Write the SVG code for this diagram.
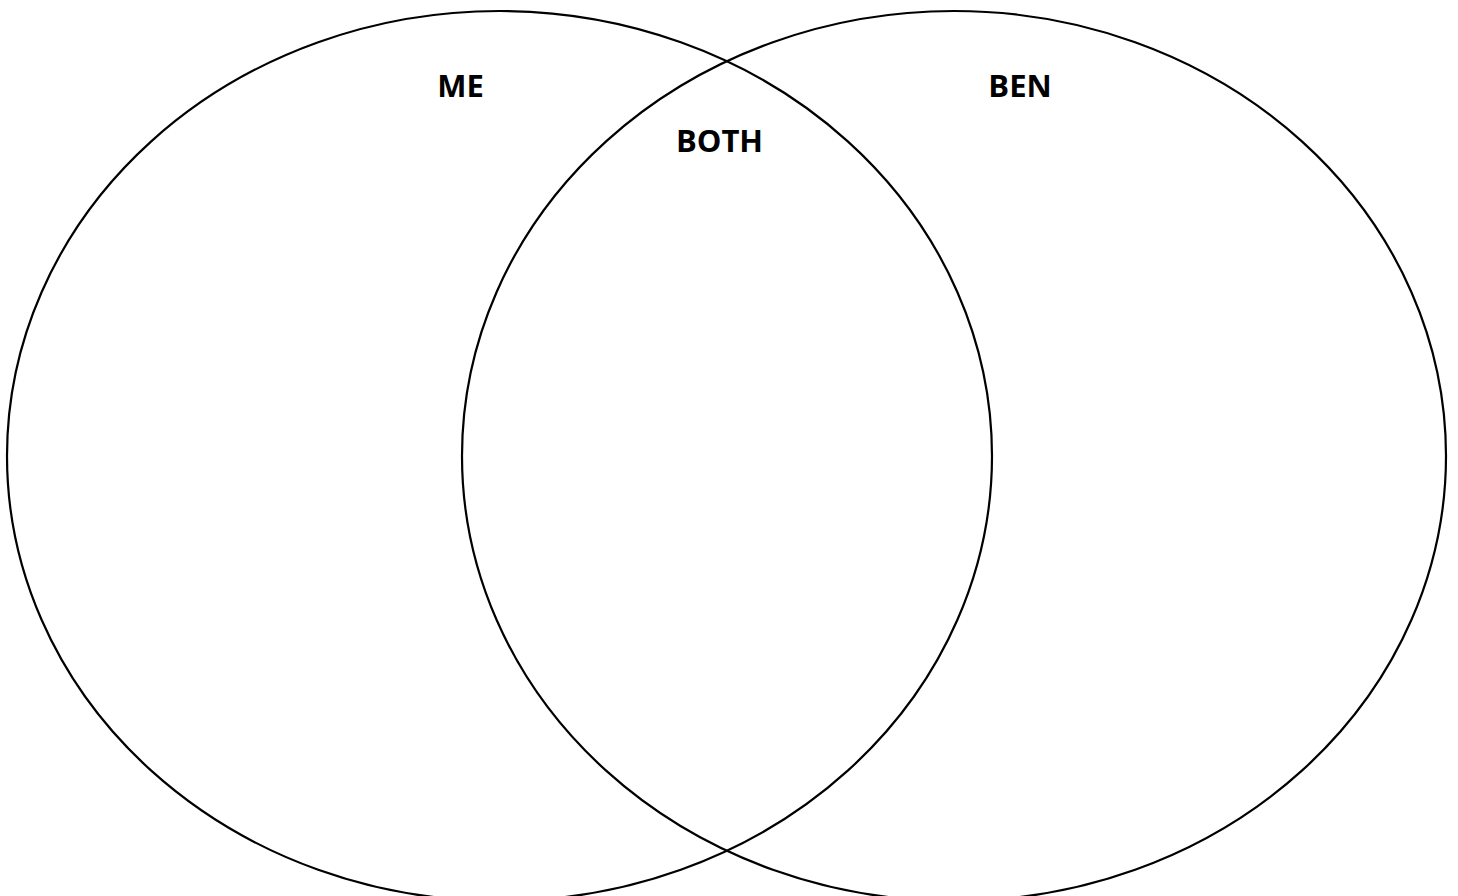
<svg xmlns="http://www.w3.org/2000/svg" width="1458" height="896" viewBox="0 0 1458 896">
<style>
.c{fill:none;stroke:#000;stroke-width:2.2}
.t{font-family:"Open Sans","Liberation Sans",sans-serif;font-weight:bold;font-size:31px;fill:#000;text-anchor:middle}
</style>
<rect width="1458" height="896" fill="#fff"/>
<g id="me">
<ellipse class="c" cx="499.5" cy="456" rx="492.5" ry="445"/>
<text class="t" x="460.5" y="97">ME</text>
</g>
<g id="ben">
<ellipse class="c" cx="954" cy="456" rx="492" ry="445"/>
<text class="t" x="1020" y="97">BEN</text>
</g>
<g id="both">
<text class="t" x="719.5" y="152">BOTH</text>
</g>
<g id="connectors"/>
</svg>
